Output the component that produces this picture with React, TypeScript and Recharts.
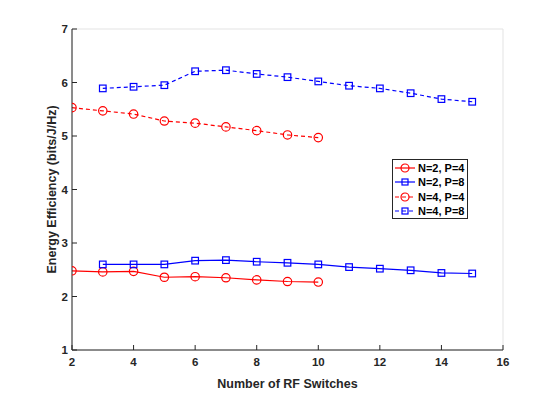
import React from 'react'
import {
  LineChart,
  Line,
  XAxis,
  YAxis,
  CartesianGrid,
} from 'recharts'

// x positions (number of RF switches)
const switchesP4 = [2, 3, 4, 5, 6, 7, 8, 9, 10]
const switchesP8 = [3, 4, 5, 6, 7, 8, 9, 10, 11, 12, 13, 14, 15]

// energy efficiency in bits/J/Hz
const n2p4 = [2.48, 2.46, 2.47, 2.36, 2.37, 2.35, 2.31, 2.28, 2.27]
const n2p8 = [2.6, 2.6, 2.6, 2.67, 2.68, 2.65, 2.63, 2.6, 2.55, 2.52, 2.49, 2.44, 2.43]
const n4p4 = [5.53, 5.47, 5.41, 5.28, 5.24, 5.17, 5.1, 5.02, 4.97]
const n4p8 = [5.89, 5.92, 5.95, 6.21, 6.23, 6.16, 6.1, 6.02, 5.94, 5.89, 5.8, 5.69, 5.64]

const xTicks = [2, 4, 6, 8, 10, 12, 14, 16]
const yTicks = [1, 2, 3, 4, 5, 6, 7]

const RED = '#ff0000'
const BLUE = '#0000ff'
const AXIS = '#262626'
const FONT = '"Liberation Sans", Arial, sans-serif'

const toPoints = (xs: number[], ys: number[]) => xs.map((x, i) => ({ x, y: ys[i] }))

const series = [
  { name: 'N=2, P=4', color: RED, dashed: false, marker: 'circle', data: toPoints(switchesP4, n2p4) },
  { name: 'N=2, P=8', color: BLUE, dashed: false, marker: 'square', data: toPoints(switchesP8, n2p8) },
  { name: 'N=4, P=4', color: RED, dashed: true, marker: 'circle', data: toPoints(switchesP4, n4p4) },
  { name: 'N=4, P=8', color: BLUE, dashed: true, marker: 'square', data: toPoints(switchesP8, n4p8) },
]

function makeDot(marker: string, color: string) {
  return (props: any) => {
    const { cx, cy, index } = props
    if (cx == null || cy == null) return <g key={index} />
    if (marker === 'circle') {
      return <circle key={index} cx={cx} cy={cy} r={4.2} fill="none" stroke={color} strokeWidth={1.2} />
    }
    return (
      <rect key={index} x={cx - 3.3} y={cy - 3.3} width={6.6} height={6.6} fill="none" stroke={color} strokeWidth={1.2} />
    )
  }
}

function LegendBox() {
  return (
    <div
      style={{
        position: 'absolute',
        left: 392,
        top: 159,
        boxSizing: 'border-box',
        width: 76,
        height: 60,
        border: `1px solid ${AXIS}`,
        background: '#fff',
        padding: '1px 0',
        fontFamily: FONT,
        fontWeight: 700,
        fontSize: 11,
        color: '#000',
      }}
    >
      {series.map((s) => (
        <div key={s.name} style={{ display: 'flex', alignItems: 'center', height: 14.3 }}>
          <svg width={24} height={14} style={{ flex: 'none' }}>
            <line
              x1={2}
              y1={7}
              x2={22}
              y2={7}
              stroke={s.color}
              strokeWidth={1.2}
              strokeDasharray={s.dashed ? '4 3' : undefined}
            />
            {s.marker === 'circle' ? (
              <circle cx={12} cy={7} r={4} fill="none" stroke={s.color} strokeWidth={1.2} />
            ) : (
              <rect x={9} y={4} width={6} height={6} fill="none" stroke={s.color} strokeWidth={1.2} />
            )}
          </svg>
          <span style={{ marginLeft: 1, whiteSpace: 'nowrap' }}>{s.name}</span>
        </div>
      ))}
    </div>
  )
}

const tickStyle = { fontSize: 11.5, fontWeight: 700, fill: AXIS, fontFamily: FONT }
const labelStyle = { fontSize: 12.5, fontWeight: 700, fill: AXIS, fontFamily: FONT }

export default function App() {
  return (
    <div style={{ position: 'absolute', left: 0, top: 0, width: 556, height: 394, background: '#fff' }}>
      <LineChart width={556} height={394} margin={{ top: 29, right: 53, bottom: 0, left: 32 }}>
        <CartesianGrid stroke="#e3e3e3" strokeWidth={1} />
        <XAxis
          xAxisId="b"
          type="number"
          dataKey="x"
          domain={[2, 16]}
          ticks={xTicks}
          allowDataOverflow
          height={44}
          stroke={AXIS}
          tickSize={-5}
          tickMargin={13}
          tick={tickStyle}
          label={{
            value: 'Number of RF Switches',
            position: 'insideBottom',
            offset: 6,
            style: labelStyle,
          }}
        />
        <XAxis
          xAxisId="t"
          orientation="top"
          type="number"
          dataKey="x"
          domain={[2, 16]}
          ticks={xTicks}
          height={0}
          stroke={AXIS}
          tickSize={-5}
          tickFormatter={() => ''}
        />
        <YAxis
          yAxisId="l"
          type="number"
          domain={[1, 7]}
          ticks={yTicks}
          width={40}
          stroke={AXIS}
          tickSize={-5}
          tickMargin={9}
          tick={tickStyle}
          label={{
            value: 'Energy Efficiency (bits/J/Hz)',
            angle: -90,
            position: 'insideLeft',
            offset: 20,
            dy: 84,
            style: labelStyle,
          }}
        />
        <YAxis
          yAxisId="r"
          orientation="right"
          type="number"
          domain={[1, 7]}
          ticks={yTicks}
          width={0}
          stroke={AXIS}
          tickSize={-5}
          tickFormatter={() => ''}
        />
        {series.map((s) => (
          <Line
            key={s.name}
            xAxisId="b"
            yAxisId="l"
            data={s.data}
            dataKey="y"
            name={s.name}
            type="linear"
            stroke={s.color}
            strokeWidth={1.2}
            strokeDasharray={s.dashed ? '4 3' : undefined}
            dot={makeDot(s.marker, s.color)}
            activeDot={false}
            isAnimationActive={false}
          />
        ))}
      </LineChart>
      <LegendBox />
    </div>
  )
}
